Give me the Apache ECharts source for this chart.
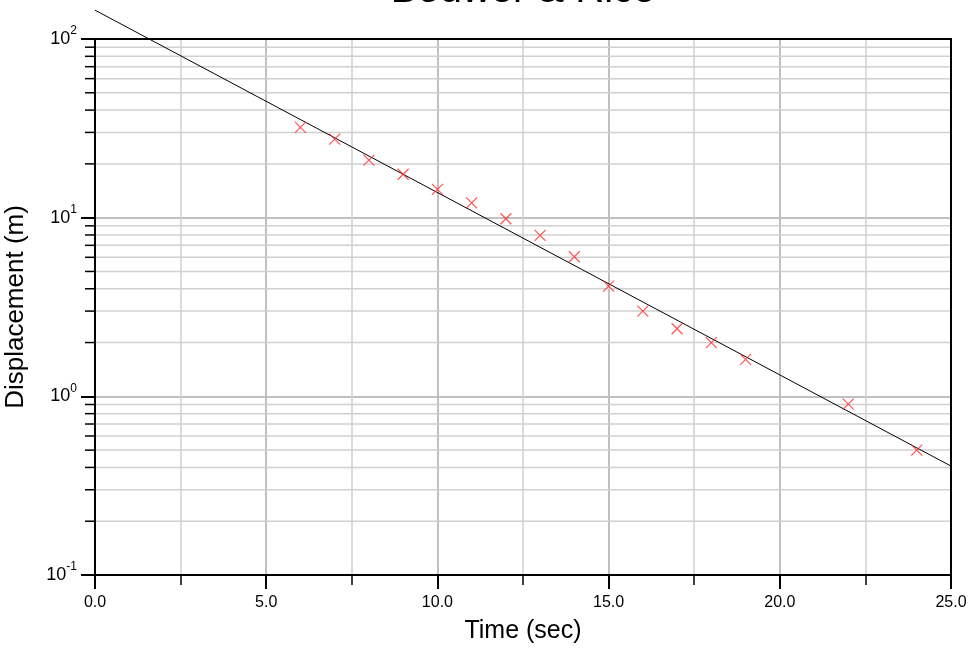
<!DOCTYPE html>
<html>
<head>
<meta charset="utf-8">
<script src="https://cdn.jsdelivr.net/npm/echarts@6/dist/echarts.min.js"></script>
<style>
html,body{margin:0;padding:0;background:#fff;}
#chart{width:971px;height:657px;}
</style>
</head>
<body>
<div id="chart"></div>
<script>
// Observed data (time in sec, displacement in m)
const timeValues = [6, 7, 8, 9, 10, 11, 12, 13, 14, 15, 16, 17, 18, 19, 22, 24];
const displacementValues = [32.0, 27.5, 21.0, 17.5, 14.4, 12.1, 9.86, 7.96, 6.04, 4.14, 3.0, 2.39, 2.0, 1.61, 0.905, 0.50];
// Fitted straight line end points
const fitTime = [0, 25];
const fitDisplacement = [145, 0.407];
// Log minor grid values
const yMinorValues = [0.2, 0.3, 0.4, 0.5, 0.6, 0.7, 0.8, 0.9,
  2, 3, 4, 5, 6, 7, 8, 9,
  20, 30, 40, 50, 60, 70, 80, 90];
const titleText = 'Bouwer & Rice';
const xTitle = 'Time (sec)';
const yTitle = 'Displacement (m)';

const FONT = 'Liberation Sans, Arial, sans-serif';
const chart = echarts.init(document.getElementById('chart'), null, {renderer: 'canvas'});

const gridLeft = 95, gridRight = 20, gridTop = 39, gridBottom = 82;

const option = {
  animation: false,
  backgroundColor: '#fff',
  graphic: [{
    type: 'text',
    x: 523,
    y: -9,
    z: 10,
    style: {
      text: titleText,
      fontSize: 40,
      fontFamily: FONT,
      fill: '#000',
      align: 'center',
      verticalAlign: 'middle'
    }
  }],
  grid: {
    left: gridLeft, right: gridRight, top: gridTop, bottom: gridBottom,
    containLabel: false,
    outerBoundsMode: 'none',
    show: true, borderColor: '#000', borderWidth: 2, backgroundColor: 'transparent', z: 5
  },
  xAxis: {
    type: 'value',
    min: 0, max: 25, interval: 5,
    name: xTitle,
    nameLocation: 'middle',
    nameGap: 44,
    nameTextStyle: {fontSize: 25, fontFamily: FONT, color: '#000'},
    axisLine: {show: true, onZero: false, lineStyle: {color: '#000', width: 2}},
    axisTick: {show: true, inside: false, length: 14, lineStyle: {color: '#000', width: 2}},
    minorTick: {show: true, splitNumber: 2, length: 10, lineStyle: {color: '#000', width: 1.5}},
    axisLabel: {
      margin: 20, fontSize: 16, fontFamily: FONT, color: '#000',
      formatter: v => v.toFixed(1)
    },
    splitLine: {show: true, lineStyle: {color: '#c0c0c0', width: 2}},
    minorSplitLine: {show: true, lineStyle: {color: '#d0d0d0', width: 1.5}}
  },
  yAxis: {
    type: 'log',
    logBase: 10,
    min: 0.1, max: 100,
    name: yTitle,
    nameLocation: 'middle',
    nameGap: 66,
    nameRotate: 90,
    nameTextStyle: {fontSize: 26, fontFamily: FONT, color: '#000'},
    axisLine: {show: true, onZero: false, lineStyle: {color: '#000', width: 2}},
    axisTick: {show: true, inside: false, length: 14, lineStyle: {color: '#000', width: 2}},
    axisLabel: {
      margin: 18,
      formatter: v => '{b|10}{s|' + Math.round(Math.log10(v)) + '}',
      rich: {
        b: {fontSize: 18, fontFamily: FONT, color: '#000', lineHeight: 28, verticalAlign: 'middle'},
        s: {fontSize: 12, fontFamily: FONT, color: '#000', lineHeight: 12, verticalAlign: 'top'}
      }
    },
    splitLine: {show: true, lineStyle: {color: '#c0c0c0', width: 2}}
  },
  series: [
    {
      type: 'custom',
      name: 'minor',
      coordinateSystem: 'cartesian2d',
      clip: false,
      silent: true,
      z: 1,
      data: yMinorValues.map(v => [0, v]),
      renderItem: function (params, api) {
        const y = api.coord([0, api.value(1)])[1];
        const cs = params.coordSys;
        return {
          type: 'group',
          children: [
            {type: 'line', shape: {x1: cs.x, y1: y, x2: cs.x + cs.width, y2: y},
              style: {stroke: '#d0d0d0', lineWidth: 1.5}},
            {type: 'line', shape: {x1: cs.x - 10, y1: y, x2: cs.x, y2: y},
              style: {stroke: '#000', lineWidth: 1.5}}
          ]
        };
      }
    },
    {
      type: 'line',
      name: 'fit',
      clip: false,
      z: 3,
      symbol: 'none',
      data: fitTime.map((t, i) => [t, fitDisplacement[i]]),
      lineStyle: {color: '#000', width: 1}
    },
    {
      type: 'scatter',
      name: 'data',
      z: 4,
      symbol: 'path://M0,0L10,10M10,0L0,10',
      symbolSize: 11,
      data: timeValues.map((t, i) => [t, displacementValues[i]]),
      itemStyle: {color: 'rgba(0,0,0,0)', borderColor: '#ff2a2a', borderWidth: 1.2}
    }
  ]
};
chart.setOption(option);
</script>
</body>
</html>
